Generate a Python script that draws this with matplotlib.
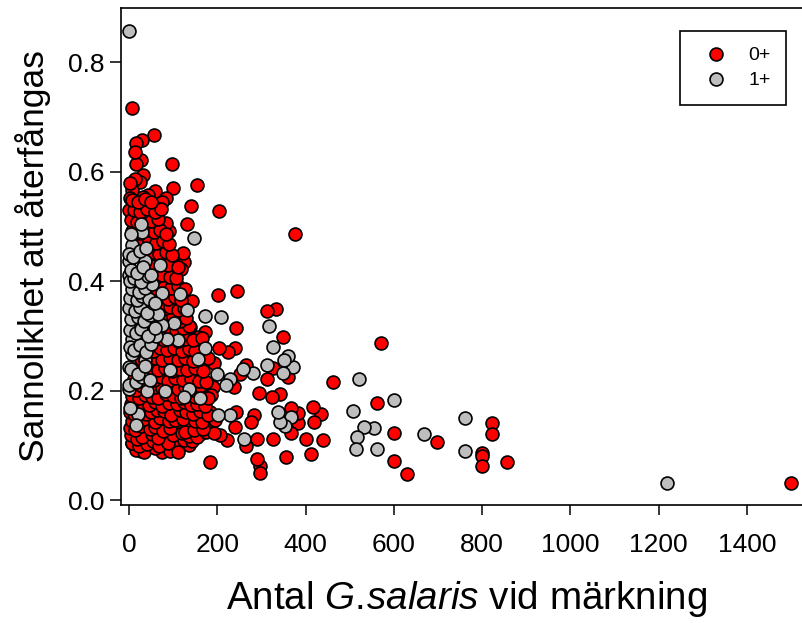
import matplotlib
matplotlib.use('Agg')
import matplotlib.pyplot as plt
from matplotlib.lines import Line2D
from matplotlib.patches import Rectangle

plt.rcParams['font.family'] = ['Liberation Sans', 'DejaVu Sans']
plt.rcParams['mathtext.fontset'] = 'custom'
plt.rcParams['mathtext.rm'] = 'Liberation Sans'
plt.rcParams['mathtext.it'] = 'Liberation Sans:italic'

# 0+ fish, points (isolated ones first, then the dense cluster by rows)
red_x = [1500, 857, 823, 823, 800, 800, 800, 698, 630, 600, 600, 570, 562, 462, 439, 434, 419, 417, 412, 400,
         383, 383, 376, 368, 368, 360, 355, 350, 342, 334, 326, 326, 323, 312, 312, 297, 296, 295, 289, 289,
         283, 276, 265, 265, 251, 245, 243, 242, 240, 240, 238, 224, 221, 206, 204, 204, 201, 193, 190, 187,
         183, 183, 172, 172, 162, 156, 154, 152, 142, 140, 138, 136, 135, 131, 125, 122, 118, 110, 109, 106,
         104, 99, 97, 91, 90, 85, 84, 84, 77, 74, 74, 74, 72, 62, 62, 59, 57, 50, 49, 45,
         43, 41, 32, 31, 29, 27, 27, 25, 16, 16, 14, 14, 7, 7, 7, 6, 2, 2, 0,
         # y about 0.09 - 0.14
         15, 35, 60, 92, 112, 8, 22, 40, 55, 68, 88, 125, 142, 5, 18, 30, 52, 65, 100, 120, 135, 155, 175, 192,
         3, 14, 28, 48, 60, 78, 94, 128, 148, 168, 6, 20, 34, 58, 70, 90, 104, 122, 150, 165, 195,
         # y about 0.15 - 0.20
         2, 12, 26, 38, 50, 64, 80, 96, 115, 130, 146, 160, 178, 5, 18, 32, 46, 58, 74, 90, 108, 124, 140, 155, 172,
         8, 22, 36, 52, 66, 84, 100, 118, 134, 150, 168, 180, 4, 16, 30, 44, 60, 76, 92, 112, 128, 144, 162,
         # y about 0.21 - 0.30
         12, 26, 42, 56, 72, 88, 104, 122, 140, 158, 175, 20, 34, 50, 66, 82, 98, 116, 132, 150, 168, 28, 44, 60,
         76, 92, 110, 128, 146, 162, 180, 38, 54, 70, 86, 102, 120, 136, 150, 30, 48, 64, 80, 96, 112, 126, 144, 165,
         # y about 0.31 - 0.42
         25, 42, 58, 74, 90, 106, 122, 136, 35, 52, 68, 84, 100, 116, 130, 30, 46, 62, 78, 94, 110, 124, 40, 56,
         72, 88, 104, 118, 48, 64, 80, 96, 112, 126, 44, 60, 76, 92, 106,
         # y about 0.43 - 0.56
         40, 56, 72, 88, 112, 20, 36, 52, 68, 84, 98, 14, 30, 46, 62, 78, 90, 8, 24, 40, 56, 70, 84, 4, 18, 34, 50,
         66, 12, 26, 42, 58, 72, 6, 20, 36, 50]
red_y = [.032, .07, .14, .121, .086, .08, .062, .106, .048, .123, .072, .287, .178, .216, .11, .157, .142, .17, .084, .112,
         .141, .159, .486, .122, .168, .225, .078, .298, .194, .349, .241, .112, .189, .346, .222, .062, .049, .196, .112, .075,
         .155, .142, .246, .098, .23, .382, .315, .161, .277, .134, .206, .271, .11, .119, .278, .528, .375, .251, .207, .192,
         .161, .07, .307, .139, .12, .298, .575, .227, .363, .537, .316, .14, .1, .504, .435, .451, .422, .134, .159, .1,
         .409, .57, .614, .492, .446, .506, .551, .111, .469, .545, .14, .088, .164, .533, .499, .565, .667, .511, .1, .12,
         .557, .161, .553, .594, .657, .09, .621, .581, .653, .614, .636, .587, .716, .566, .105, .517, .58, .551, .53,
         .092, .088, .095, .09, .087, .105, .098, .102, .108, .099, .104, .11, .108, .118, .112, .115, .12, .113, .118, .122, .117, .116, .124, .122,
         .132, .128, .135, .129, .133, .127, .131, .125, .128, .13, .145, .142, .148, .143, .15, .144, .147, .149, .145, .143, .146,
         .16, .157, .163, .158, .16, .165, .162, .156, .164, .16, .158, .163, .155, .176, .172, .178, .174, .18, .172, .177, .175, .179, .173, .176, .172,
         .19, .187, .192, .188, .186, .194, .19, .187, .192, .188, .191, .186, .205, .202, .208, .203, .207, .204, .209, .203, .206, .202, .208,
         .222, .218, .225, .22, .224, .217, .223, .219, .222, .218, .216, .24, .236, .242, .238, .241, .235, .24, .237, .242, .236, .258, .254, .26,
         .256, .26, .255, .259, .254, .258, .26, .276, .272, .278, .274, .277, .272, .276, .273, .295, .291, .297, .292, .296, .29, .294, .292, .296,
         .315, .311, .317, .312, .316, .31, .314, .318, .333, .329, .335, .33, .334, .328, .332, .352, .348, .354, .349, .353, .347, .351, .37, .366,
         .372, .367, .371, .365, .39, .386, .392, .387, .391, .385, .41, .406, .412, .407, .405,
         .432, .428, .434, .429, .425, .452, .448, .454, .449, .453, .447, .472, .468, .474, .469, .473, .467, .492, .488, .494, .489, .493, .487, .512, .508, .514, .509,
         .513, .53, .526, .532, .527, .531, .548, .544, .55, .545]

# 1+ fish
gray_x = [1218, 761, 762, 668, 600, 562, 556, 533, 521, 516, 514, 508, 371, 367, 360, 353, 351, 349, 342, 337, 326, 317, 312, 281, 260,
          258, 230, 229, 220, 208, 202, 199, 173, 173, 161, 156, 147, 136, 132, 125, 115, 110, 102, 93, 87, 82, 76, 74, 42, 40, 36, 36,
          32, 29, 27, 20, 16, 14, 10, 8, 6, 6, 4, 2, 1, 0, 0, 0, 0,
          # left column, mostly hidden behind each other
          3, 12, 24, 38, 50, 62, 2, 16, 28, 44, 58, 5, 20, 34, 48, 66, 1, 14, 26, 40, 54, 3, 18, 30, 46, 60, 7, 22, 36, 52, 2, 12, 28, 44, 4, 18, 32, 50, 70, 1, 10, 24, 38,
          0, 15, 30, 4, 20, 36, 48]
gray_y = [.032, .15, .09, .12, .183, .093, .132, .133, .221, .115, .094, .163, .243, .152, .263, .135, .255, .232, .143, .16, .28, .318, .246, .232, .112,
          .239, .221, .155, .21, .335, .155, .23, .278, .337, .187, .257, .478, .203, .347, .189, .376, .292, .323, .237, .295, .199, .378, .319, .35, .199, .256, .437,
          .39, .489, .504, .158, .137, .355, .318, .267, .294, .466, .486, .168, .437, .857, .411, .243, .203,
          .28, .275, .283, .27, .286, .3, .31, .305, .312, .3, .315, .33, .335, .328, .338, .34, .35, .345, .352, .342, .36, .37, .365, .373, .368, .36, .385, .38, .388, .395, .4, .405, .398, .41, .42, .415, .425, .412, .43,
          .45, .445, .455, .46, .21, .215, .225, .24, .23, .245, .22]

x_ticks = [0, 200, 400, 600, 800, 1000, 1200, 1400]
y_ticks = [0.0, 0.2, 0.4, 0.6, 0.8]

W, H = 803, 623
fig = plt.figure(figsize=(W / 100, H / 100), dpi=100)
ax = fig.add_axes([121 / W, 118 / H, 682 / W, 497 / H])

ax.plot(red_x, red_y, 'o', color='#ff0000', mec='black', mew=1.2, ms=9.3)
ax.plot(gray_x, gray_y, 'o', color='#bebebe', mec='black', mew=1.2, ms=9.3)

ax.set_xlim(-18, 1527)
ax.set_ylim(-0.009, 0.899)
ax.set_xticks(x_ticks)
ax.set_yticks(y_ticks)
ax.set_yticklabels(['%.1f' % v for v in y_ticks])
ax.tick_params(axis='x', labelsize=19, length=7, width=1.1, pad=13)
ax.tick_params(axis='y', labelsize=19, length=8, width=1.1, pad=4)
ax.spines['right'].set_visible(False)
for s in ['left', 'bottom', 'top']:
    ax.spines[s].set_linewidth(1.2)

ax.set_xlabel(r'Antal $\mathit{G.\!salaris}$ vid märkning', fontsize=27.8, labelpad=16, x=0.507)
ax.set_ylabel('Sannolikhet att återfångas', fontsize=25.5, labelpad=12, y=0.5)

# legend box placed by hand, the marker-text gap is wider on the right than legend() allows
fig.add_artist(Rectangle((680 / W, 1 - 105 / H), 106 / W, 74 / H, transform=fig.transFigure,
                         facecolor='white', edgecolor='black', linewidth=1.2, zorder=5))
for label, color, py in [('0+', '#ff0000', 54), ('1+', '#bebebe', 79)]:
    fig.add_artist(Line2D([716 / W], [1 - py / H], marker='o', color=color, mec='black', mew=1.2, ms=9.3,
                          linestyle='none', transform=fig.transFigure, zorder=6))
    fig.text(771 / W, 1 - (py + 1.5) / H, label, ha='right', va='center', fontsize=14, zorder=6)

plt.savefig('out.png', dpi=100)
